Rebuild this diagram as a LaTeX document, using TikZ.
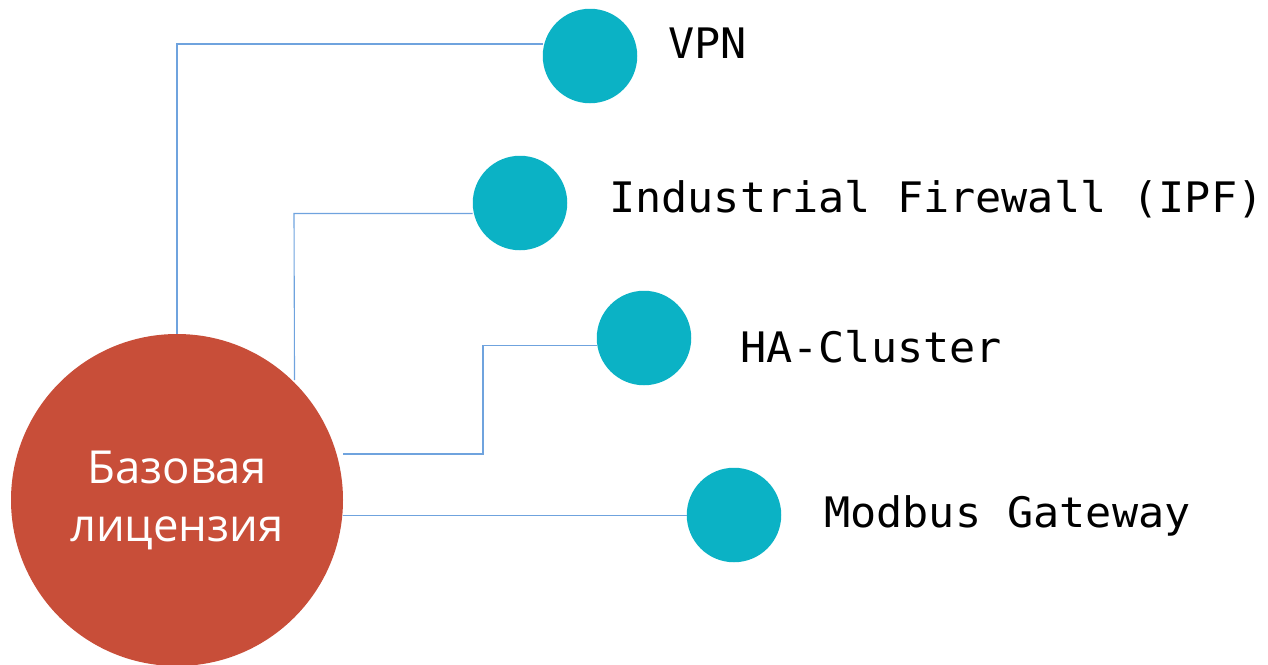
\documentclass[tikz,border=0pt]{standalone}
\usepackage{fontspec}
\setmainfont{Open Sans}
\newfontfamily\labelmono[FakeStretch=1.035]{DejaVu Sans Mono}
\definecolor{hubred}{HTML}{C84E39}
\definecolor{leafteal}{HTML}{0BB2C5}
\definecolor{linkblue}{HTML}{6FA3DE}
\begin{document}
\begin{tikzpicture}[x=1pt,y=-1pt,
  hub/.style={circle,fill=hubred,draw=none,minimum size=332pt,inner sep=0pt,
    text=white,align=center,font=\fontsize{45.5}{58}\selectfont},
  leaf/.style={circle,fill=leafteal,draw=none,minimum size=94.5pt,inner sep=0pt},
  link/.style={draw=linkblue,line width=1.1pt},
  tag/.style={anchor=base west,inner sep=0pt,font=\labelmono\fontsize{42}{50}\selectfont}]
  \useasboundingbox (0,0) rectangle (1268,664);

  % central hub
  \node[hub] (base) at (177,500) {\raisebox{-4pt}{Базовая}\\\raisebox{-4pt}{лицензия}};

  % modules
  \node[leaf] (vpn) at (590,56) {};
  \node[leaf] (ipf) at (520,203) {};
  \node[leaf] (ha)  at (644,338) {};
  \node[leaf] (mb)  at (734,515) {};

  % labels
  \node[tag] (tvpn) at (668,58.5) {VPN};
  \node[tag] (tipf) at (609,212) {Industrial Firewall (IPF)};
  \node[tag] (tha)  at (740,362) {HA-Cluster};
  \node[tag] (tmb)  at (824,527.5) {Modbus Gateway};

  % elbow connectors
  \coordinate (c1) at (177,44);
  \coordinate (c2) at (294,213.5);
  \coordinate (c3a) at (483,454);
  \coordinate (c3b) at (483,345.5);
  \draw[link] (base.north) -- (c1) -- (vpn.west |- c1);
  \draw[link] (base.45 |- 0,380) -- (c2) -- (ipf.west |- c2);
  \draw[link] (343,454) -- (c3a) -- (c3b) -- (ha.west |- c3b);
  \draw[link] (base.east |- 0,515.5) -- (mb.west |- 0,515.5);
\end{tikzpicture}
\end{document}
